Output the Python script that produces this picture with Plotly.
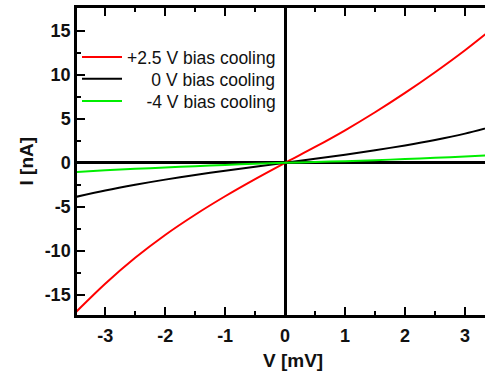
import plotly.graph_objects as go

V = [-3.5, -3.0, -2.5, -2.0, -1.5, -1.0, -0.5, 0.0, 0.5, 1.0, 1.5, 2.0, 2.5, 3.0, 3.5]
I_plus25 = [-17.05, -13.75, -10.8, -8.2, -5.9, -3.8, -1.85, 0.0, 1.8, 3.7, 5.75, 7.95, 10.3, 12.8, 15.5]
I_zero = [-3.89, -3.14, -2.49, -1.91, -1.38, -0.9, -0.45, 0.0, 0.45, 0.93, 1.43, 1.98, 2.6, 3.32, 4.2]
I_minus4 = [-1.05, -0.85, -0.68, -0.53, -0.38, -0.24, -0.11, 0.0, 0.09, 0.19, 0.3, 0.43, 0.57, 0.72, 0.9]

NB = "\u00a0"
names = ["+2.5 V bias cooling", NB * 5 + "0 V bias cooling", NB * 4 + "-4 V bias cooling"]
colors = ["#ff0000", "#000000", "#00ee00"]
series = [I_plus25, I_zero, I_minus4]
legend_ids = ["legend", "legend2", "legend3"]
legend_y = [0.840, 0.769, 0.697]

x_ticks = [-3, -2, -1, 0, 1, 2, 3]
y_ticks = [-15, -10, -5, 0, 5, 10, 15]

FONT = "Arial, Liberation Sans, sans-serif"

fig = go.Figure()
for name, col, ys, lid in zip(names, colors, series, legend_ids):
    fig.add_trace(go.Scatter(x=V, y=ys, mode="lines", name=name, legend=lid,
                             line=dict(color=col, width=2, shape="spline", smoothing=0.8)))

leg_common = dict(x=0.0, xanchor="left", yanchor="middle",
                  bgcolor="rgba(0,0,0,0)", itemwidth=40,
                  font=dict(family=FONT, size=17.5, color="#111"))
fig.update_layout(
    width=485, height=372,
    margin=dict(l=77, r=0, t=8, b=57),
    paper_bgcolor="white", plot_bgcolor="white",
    showlegend=True,
    legend=dict(y=legend_y[0], **leg_common),
    legend2=dict(y=legend_y[1], **leg_common),
    legend3=dict(y=legend_y[2], **leg_common),
    annotations=[
        dict(text="V [mV]", xref="paper", yref="paper", x=0.529, y=-0.107,
             xanchor="center", yanchor="top", showarrow=False,
             font=dict(family=FONT, size=19, color="#111", weight="bold")),
        dict(text="I [nA]", xref="paper", yref="paper", x=-0.125, y=0.5,
             xanchor="center", yanchor="middle", showarrow=False, textangle=-90,
             font=dict(family=FONT, size=19, color="#111", weight="bold")),
    ],
)

fig.update_xaxes(range=[-3.47, 3.333], tickvals=x_ticks, ticktext=[str(t) for t in x_ticks],
                 ticks="inside", ticklen=8, tickwidth=2, tickcolor="black",
                 minor=dict(dtick=0.5, ticks="inside", ticklen=4, tickwidth=2, tickcolor="black", showgrid=False),
                 showline=True, linecolor="black", linewidth=2.5, mirror="ticks",
                 showgrid=False, zeroline=True, zerolinecolor="black", zerolinewidth=2.5,
                 tickfont=dict(family=FONT, size=18, color="#111", weight="bold"),
                 ticklabelstandoff=3)
fig.update_yaxes(range=[-17.3, 17.6], tickvals=y_ticks, ticktext=[str(t) for t in y_ticks],
                 ticks="inside", ticklen=8, tickwidth=2, tickcolor="black",
                 minor=dict(dtick=2.5, ticks="inside", ticklen=4, tickwidth=2, tickcolor="black", showgrid=False),
                 showline=True, linecolor="black", linewidth=2.5, mirror=False,
                 showgrid=False, zeroline=True, zerolinecolor="black", zerolinewidth=2.5,
                 tickfont=dict(family=FONT, size=18, color="#111", weight="bold"))

fig.write_html("out.html")
